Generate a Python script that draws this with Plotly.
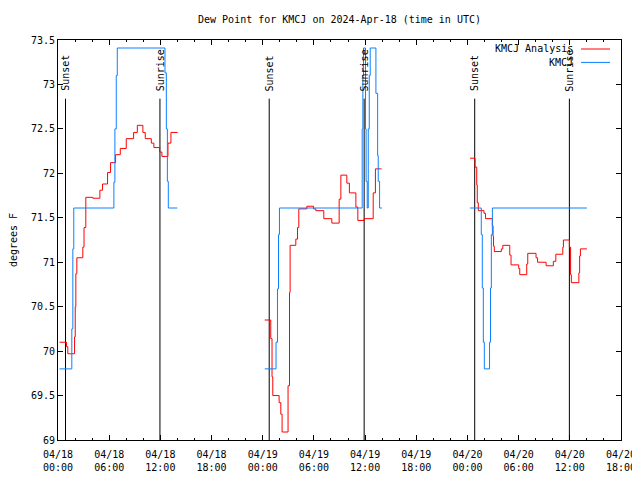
import pandas as pd
import plotly.graph_objects as go

# ---- data (hours after 2024-04-18 00:00 UTC) ----
analysis_hours = [0.18, 1.0, 1.15, 1.94, 2.02, 2.09, 2.21, 2.91, 3.05, 3.26, 4.08, 4.91, 5.22, 5.81,
                  6.16, 6.75, 7.30, 8.0, 8.86, 9.30, 9.95, 10.23, 10.94, 11.24, 11.91, 12.18, 12.89,
                  13.24, 14.03,
                  None,
                  24.23, 24.94, 25.09, 25.18, 25.92, 26.12, 26.27, 26.97, 27.14, 27.21, 27.88, 28.08,
                  28.23, 29.17, 29.95, 30.22, 31.16, 32.10, 32.96, 33.16, 33.86, 34.16, 34.92, 35.15,
                  35.89, 36.95, 37.21, 37.93,
                  None,
                  48.30, 48.89, 49.09, 49.15, 49.27, 49.94, 50.12, 50.92, 51.0, 51.06, 51.15, 51.97,
                  52.14, 52.96, 53.11, 54.01, 54.13, 54.95, 55.07, 56.04, 56.22, 57.22, 58.07, 58.36,
                  59.18, 59.25, 59.95, 60.09, 60.18, 61.06, 61.15, 61.24, 62.0]
analysis_values = [70.10, 70.05, 69.97, 70.16, 70.50, 70.87, 71.05, 71.17, 71.39, 71.73, 71.72, 71.81,
                   71.88, 72.01, 72.12, 72.21, 72.28, 72.39, 72.46, 72.54, 72.46, 72.39, 72.34, 72.29,
                   72.24, 72.19, 72.34, 72.46, 72.46,
                   None,
                   70.35, 70.14, 69.71, 69.50, 69.42, 69.29, 69.09, 69.61, 70.66, 71.19, 71.26, 71.39,
                   71.60, 71.63, 71.60, 71.58, 71.49, 71.44, 71.71, 71.98, 71.89, 71.78, 71.62, 71.47,
                   71.49, 71.78, 72.05, 72.05,
                   None,
                   72.17, 72.07, 71.87, 71.67, 71.58, 71.55, 71.49, 71.41, 71.29, 71.18, 71.12, 71.15,
                   71.19, 71.08, 70.97, 70.93, 70.86, 70.98, 71.10, 71.05, 71.00, 70.96, 71.01, 71.09,
                   71.17, 71.25, 71.17, 70.86, 70.77, 70.88, 71.07, 71.15, 71.15]

station_hours = [0.18, 1.62, 1.74, 1.85, 6.55, 6.67, 6.83, 6.95, 12.54, 12.70, 12.82, 12.93, 13.99,
                 None,
                 24.24, 25.56, 25.73, 25.85, 25.96, 35.66, 35.74, 35.82, 36.05, 36.12, 36.25, 36.37,
                 36.49, 36.60, 37.27, 37.47, 37.54, 37.70, 37.97,
                 None,
                 48.30, 49.62, 49.74, 49.86, 49.98, 50.59, 50.70, 50.80, 50.92, 62.0]
station_values = [69.80, 70.25, 71.15, 71.61, 71.90, 72.50, 73.10, 73.41, 73.13, 72.50, 71.91, 71.61, 71.61,
                  None,
                  69.80, 70.10, 70.70, 71.31, 71.61, 72.50, 73.10, 73.41, 72.50, 71.91, 71.61, 72.50,
                  73.10, 73.41, 72.90, 72.20, 71.91, 71.61, 71.61,
                  None,
                  71.61, 71.31, 70.71, 70.10, 69.80, 70.10, 70.71, 71.31, 71.61, 71.61]

sunset_hours = [0.88, 24.76, 48.85]
sunrise_hours = [11.95, 35.89, 59.95]
sun_line_top = 72.84
sun_label_base = 72.90

tick_hours = [0, 6, 12, 18, 24, 30, 36, 42, 48, 54, 60, 66]
tick_labels = ["04/18<br>00:00", "04/18<br>06:00", "04/18<br>12:00", "04/18<br>18:00",
               "04/19<br>00:00", "04/19<br>06:00", "04/19<br>12:00", "04/19<br>18:00",
               "04/20<br>00:00", "04/20<br>06:00", "04/20<br>12:00", "04/20<br>18:00"]

base = pd.Timestamp("2024-04-18 00:00")


def to_time(hours):
    return [None if h is None else base + pd.Timedelta(hours=h) for h in hours]


FONT = "DejaVu Sans Mono"
RED = "#ff0000"
BLUE = "#0a80ff"

fig = go.Figure()

# sunset / sunrise vertical lines
vx, vy = [], []
for h in sunset_hours + sunrise_hours:
    t = base + pd.Timedelta(hours=h)
    vx += [t, t, None]
    vy += [69, sun_line_top, None]
fig.add_trace(go.Scatter(x=vx, y=vy, mode="lines", line=dict(color="black", width=1),
                         showlegend=False, hoverinfo="skip"))

fig.add_trace(go.Scatter(x=to_time(analysis_hours), y=analysis_values, mode="lines",
                         name="KMCJ Analysis", line=dict(color=RED, width=1, shape="hv"),
                         connectgaps=False, showlegend=False))
fig.add_trace(go.Scatter(x=to_time(station_hours), y=station_values, mode="lines",
                         name="KMCJ", line=dict(color=BLUE, width=1, shape="hv"),
                         connectgaps=False, showlegend=False))

for label, hours in (("Sunset", sunset_hours), ("Sunrise", sunrise_hours)):
    for h in hours:
        fig.add_annotation(x=base + pd.Timedelta(hours=h), y=sun_label_base, text=label,
                           textangle=-90, showarrow=False, xanchor="center", yanchor="bottom",
                           font=dict(family=FONT, size=10, color="black"))

# gnuplot-style key: text then line sample
legend_items = [("KMCJ Analysis", RED, 0.9775), ("KMCJ", BLUE, 0.944)]
for name, color, yp in legend_items:
    fig.add_annotation(xref="paper", yref="paper", x=0.919, y=yp, text=name, showarrow=False,
                       xanchor="right", yanchor="middle",
                       font=dict(family=FONT, size=10, color="black"))
    fig.add_shape(type="line", xref="paper", yref="paper", x0=0.929, x1=0.9805, y0=yp, y1=yp,
                  line=dict(color=color, width=1))

# the page adds an 8px body margin, so the figure is sized 8px smaller
fig.update_layout(
    width=632, height=472,
    margin=dict(l=50, r=19, t=32, b=40, autoexpand=False),
    paper_bgcolor="white", plot_bgcolor="white",
    font=dict(family=FONT, size=10, color="black"),
    title=dict(text="Dew Point for KMCJ on 2024-Apr-18 (time in UTC)", x=0.5, xref="paper",
               xanchor="center", yref="container", y=1 - 11 / 472, yanchor="middle",
               font=dict(family=FONT, size=10, color="black")),
    showlegend=False,
)

fig.update_xaxes(
    range=[base, base + pd.Timedelta(hours=66)], automargin=False,
    tickmode="array", tickvals=to_time(tick_hours), ticktext=tick_labels,
    ticks="inside", ticklen=5, tickcolor="black", showline=True, linecolor="black", linewidth=1,
    mirror="ticks", showgrid=False, zeroline=False, ticklabelstandoff=5,
    minor=dict(tickmode="linear", tick0=base, dtick=2 * 3600 * 1000, ticks="inside", ticklen=2,
               tickcolor="black", showgrid=False),
    tickfont=dict(family=FONT, size=10, color="black"),
)
fig.update_yaxes(
    range=[69, 73.5], dtick=0.5, tick0=69, automargin=False,
    ticks="inside", ticklen=5, tickcolor="black", showline=True, linecolor="black", linewidth=1,
    mirror="ticks", showgrid=False, zeroline=False,
    title=dict(text="degrees F", standoff=14, font=dict(family=FONT, size=10, color="black")),
    tickfont=dict(family=FONT, size=10, color="black"),
)

fig.write_html("out.html")
